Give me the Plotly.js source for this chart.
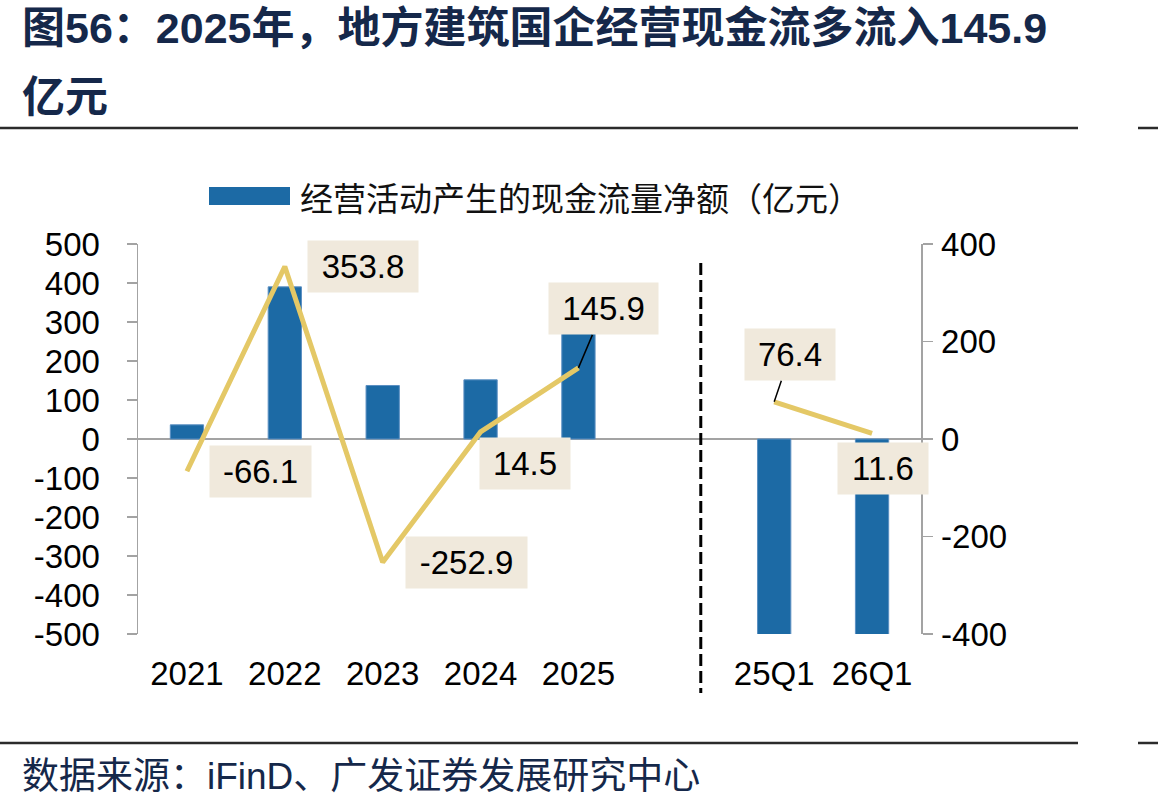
<!DOCTYPE html>
<html>
<head>
<meta charset="utf-8">
<script src="https://cdn.plot.ly/plotly-3.0.1.min.js"></script>
<style>
  html, body { margin: 0; padding: 0; background: #ffffff; }
  #chart { width: 1158px; height: 812px; }
</style>
</head>
<body>
<div id="chart"></div>
<script>
// Period labels (an empty slot separates annual and quarterly data)
const categories = ['2021', '2022', '2023', '2024', '2025', '', '25Q1', '26Q1'];
// Net operating cash flow, 100m CNY (left axis)
const netCashFlow = [36.3, 390.1, 137.2, 151.7, 297.6, null, -620.0, -608.4];
// Year-over-year change in net operating cash flow, 100m CNY (right axis)
const yoyChange = [-66.1, 353.8, -252.9, 14.5, 145.9, null, 76.4, 11.6];
const leftTicks = [-500, -400, -300, -200, -100, 0, 100, 200, 300, 400, 500];
const rightTicks = [-400, -200, 0, 200, 400];

const barName = '经营活动产生的现金流量净额（亿元）';
const titleLine1 = '图56：2025年，地方建筑国企经营现金流多流入145.9';
const titleLine2 = '亿元';
const sourceText = '数据来源：iFinD、广发证券发展研究中心';

// Plot-area geometry (pixels) used to place decorations in paper space
const W = 1158, H = 812;
const M = { l: 138, r: 237, t: 244, b: 178 };
const PW = W - M.l - M.r, PH = H - M.t - M.b;
const px = v => (v - M.l) / PW;
const py = v => (H - M.b - v) / PH;

// Label box placement: pixel offset from the point, box size, leader line
const labelStyle = [
  { ax: 74, ay: 0, w: 101, lead: false },
  { ax: 78, ay: 0, w: 110, lead: false },
  { ax: 84, ay: 0, w: 121, lead: false },
  { ax: 44, ay: 32, w: 90, lead: false },
  { ax: 25, ay: -59, w: 109, lead: true },
  null,
  { ax: 16, ay: -47, w: 90, lead: true },
  { ax: 11, ay: 35, w: 90, lead: false }
];

const xIdx = categories.map((_, i) => i);
const numFont = 'Liberation Sans, Arial, sans-serif';
const cjkFont = 'Noto Sans CJK SC, sans-serif';
const navy = '#15284a';
const textSize = 33;

const traces = [
  {
    type: 'bar',
    name: barName,
    x: xIdx,
    y: netCashFlow,
    width: 0.34,
    marker: { color: '#1c6aa5', line: { color: '#5b8fc2', width: 1 } },
    yaxis: 'y',
    showlegend: false,
    hoverinfo: 'skip'
  },
  {
    type: 'scatter',
    mode: 'lines',
    x: xIdx,
    y: yoyChange,
    yaxis: 'y2',
    connectgaps: false,
    line: { color: '#e4c866', width: 5 },
    showlegend: false,
    hoverinfo: 'skip'
  }
];

const annotations = [];
yoyChange.forEach((v, i) => {
  const s = labelStyle[i];
  if (v === null || !s) return;
  annotations.push({
    x: xIdx[i], y: v, xref: 'x', yref: 'y2',
    text: v.toFixed(1),
    showarrow: true, arrowhead: 0, standoff: 0,
    arrowwidth: 1.5,
    arrowcolor: s.lead ? '#000000' : 'rgba(0,0,0,0)',
    ax: s.ax, ay: s.ay,
    width: s.w, height: 51,
    bgcolor: '#f0e9dc',
    borderpad: 0,
    font: { family: numFont, size: textSize, color: '#000000' }
  });
});

// Title, legend text and source note
annotations.push(
  { xref: 'paper', yref: 'paper', x: px(20), y: py(28), xanchor: 'left', yanchor: 'middle',
    text: titleLine1, showarrow: false,
    font: { family: numFont + ', ' + cjkFont, size: 43, color: navy, weight: 'bold' } },
  { xref: 'paper', yref: 'paper', x: px(20), y: py(97), xanchor: 'left', yanchor: 'middle',
    text: titleLine2, showarrow: false,
    font: { family: numFont + ', ' + cjkFont, size: 43, color: navy, weight: 'bold' } },
  { xref: 'paper', yref: 'paper', x: px(298), y: py(197), xanchor: 'left', yanchor: 'middle',
    text: barName, showarrow: false,
    font: { family: cjkFont, size: 33, color: '#111111' } },
  { xref: 'paper', yref: 'paper', x: px(20), y: py(776), xanchor: 'left', yanchor: 'middle',
    text: sourceText, showarrow: false,
    font: { family: numFont + ', ' + cjkFont, size: 37, color: navy } }
);

const ruleColor = '#2b2b2b';
const shapes = [
  // legend swatch
  { type: 'rect', xref: 'paper', yref: 'paper', x0: px(209), x1: px(290), y0: py(205), y1: py(187),
    fillcolor: '#1c6aa5', line: { width: 0 } },
  // divider between annual and quarterly data
  { type: 'line', xref: 'x', yref: 'paper', x0: 5.25, x1: 5.25, y0: py(263), y1: py(693),
    line: { color: '#000000', width: 3, dash: '12px,5px' } },
  // header and footer rules
  { type: 'line', xref: 'paper', yref: 'paper', x0: px(0), x1: px(1078), y0: py(128), y1: py(128),
    line: { color: ruleColor, width: 2.5 } },
  { type: 'line', xref: 'paper', yref: 'paper', x0: px(1138), x1: px(1158), y0: py(128), y1: py(128),
    line: { color: ruleColor, width: 2.5 } },
  { type: 'line', xref: 'paper', yref: 'paper', x0: px(0), x1: px(1078), y0: py(743), y1: py(743),
    line: { color: ruleColor, width: 2.5 } },
  { type: 'line', xref: 'paper', yref: 'paper', x0: px(1138), x1: px(1158), y0: py(743), y1: py(743),
    line: { color: ruleColor, width: 2.5 } }
];

const axisGray = '#a3a3a3';
const layout = {
  width: W, height: H,
  margin: M,
  paper_bgcolor: '#ffffff',
  plot_bgcolor: '#ffffff',
  showlegend: false,
  bargap: 0,
  xaxis: {
    range: [-0.5, categories.length - 0.5],
    tickmode: 'array',
    tickvals: xIdx,
    ticktext: categories,
    showgrid: false, zeroline: false, showline: false,
    ticks: '',
    ticklabelstandoff: 17,
    tickfont: { family: numFont, size: textSize, color: '#000000' }
  },
  yaxis: {
    range: [-500, 500],
    tickmode: 'array',
    tickvals: leftTicks,
    ticktext: leftTicks.map(String),
    showgrid: false,
    zeroline: true, zerolinecolor: axisGray, zerolinewidth: 1.5,
    showline: true, linecolor: axisGray, linewidth: 1.5,
    ticks: 'outside', ticklen: 10, tickcolor: axisGray, tickwidth: 1.5,
    ticklabelstandoff: 20,
    tickfont: { family: numFont, size: textSize, color: '#000000' }
  },
  yaxis2: {
    range: [-400, 400],
    overlaying: 'y',
    side: 'right',
    tickmode: 'array',
    tickvals: rightTicks,
    ticktext: rightTicks.map(String),
    showgrid: false, zeroline: false,
    showline: true, linecolor: axisGray, linewidth: 1.5,
    ticks: 'outside', ticklen: 10, tickcolor: axisGray, tickwidth: 1.5,
    ticklabelstandoff: 2,
    tickfont: { family: numFont, size: textSize, color: '#000000' }
  },
  annotations: annotations,
  shapes: shapes
};

Plotly.newPlot('chart', traces, layout, { displayModeBar: false, staticPlot: true });
</script>
</body>
</html>
